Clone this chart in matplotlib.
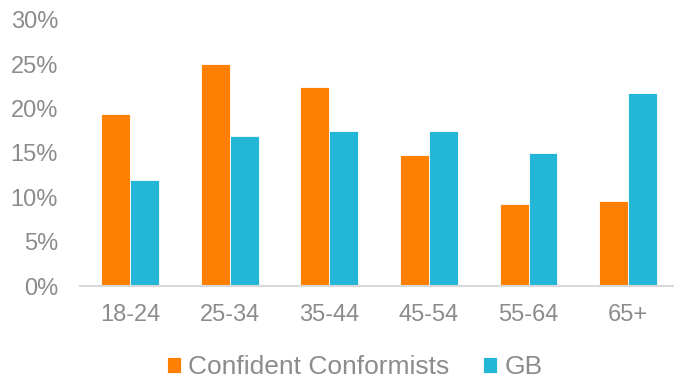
import matplotlib
matplotlib.use("Agg")
import matplotlib.pyplot as plt
import numpy as np
from matplotlib.ticker import FuncFormatter

categories = ["18-24", "25-34", "35-44", "45-54", "55-64", "65+"]
confident = [19.4, 25.0, 22.4, 14.8, 9.2, 9.6]
gb = [11.9, 16.9, 17.5, 17.5, 15.0, 21.7]
series_names = ["Confident Conformists", "GB"]
colors = ["#FF8000", "#23B6D6"]

plt.rcParams['font.family'] = ['Liberation Sans', 'DejaVu Sans']
fig = plt.figure(figsize=(6.74, 3.78), dpi=100)
ax = fig.add_axes([0.119, 0.243, 0.887, 0.705])

x = np.arange(len(categories))
w = 0.29
ax.bar(x - w/2, confident, w, color=colors[0], edgecolor='white', linewidth=0.6, label=series_names[0])
ax.bar(x + w/2, gb, w, color=colors[1], edgecolor='white', linewidth=0.6, label=series_names[1])

ax.set_xlim(-0.5, len(categories) - 0.5)
ax.set_ylim(0, 30)
ax.set_yticks(np.arange(0, 31, 5))
ax.yaxis.set_major_formatter(FuncFormatter(lambda v, p: f"{int(v)}%"))
ax.set_xticks(x)
ax.set_xticklabels(categories)

grey = "#8c8c8c"
for s in ["top", "right", "left"]:
    ax.spines[s].set_visible(False)
ax.spines["bottom"].set_color("#d9d9d9")
ax.spines["bottom"].set_linewidth(1.5)
ax.tick_params(axis='both', length=0, labelsize=17, labelcolor=grey)
ax.tick_params(axis='x', pad=13)
ax.tick_params(axis='y', pad=16)

leg = fig.legend(loc='center', bbox_to_anchor=(0.526, 1 - 367/378), ncol=2, frameon=False,
                 fontsize=19, handlelength=0.55, handleheight=0.55, handletextpad=0.27,
                 columnspacing=1.25, borderpad=0)
for t in leg.get_texts():
    t.set_color(grey)

fig.savefig("out.png", dpi=100)
